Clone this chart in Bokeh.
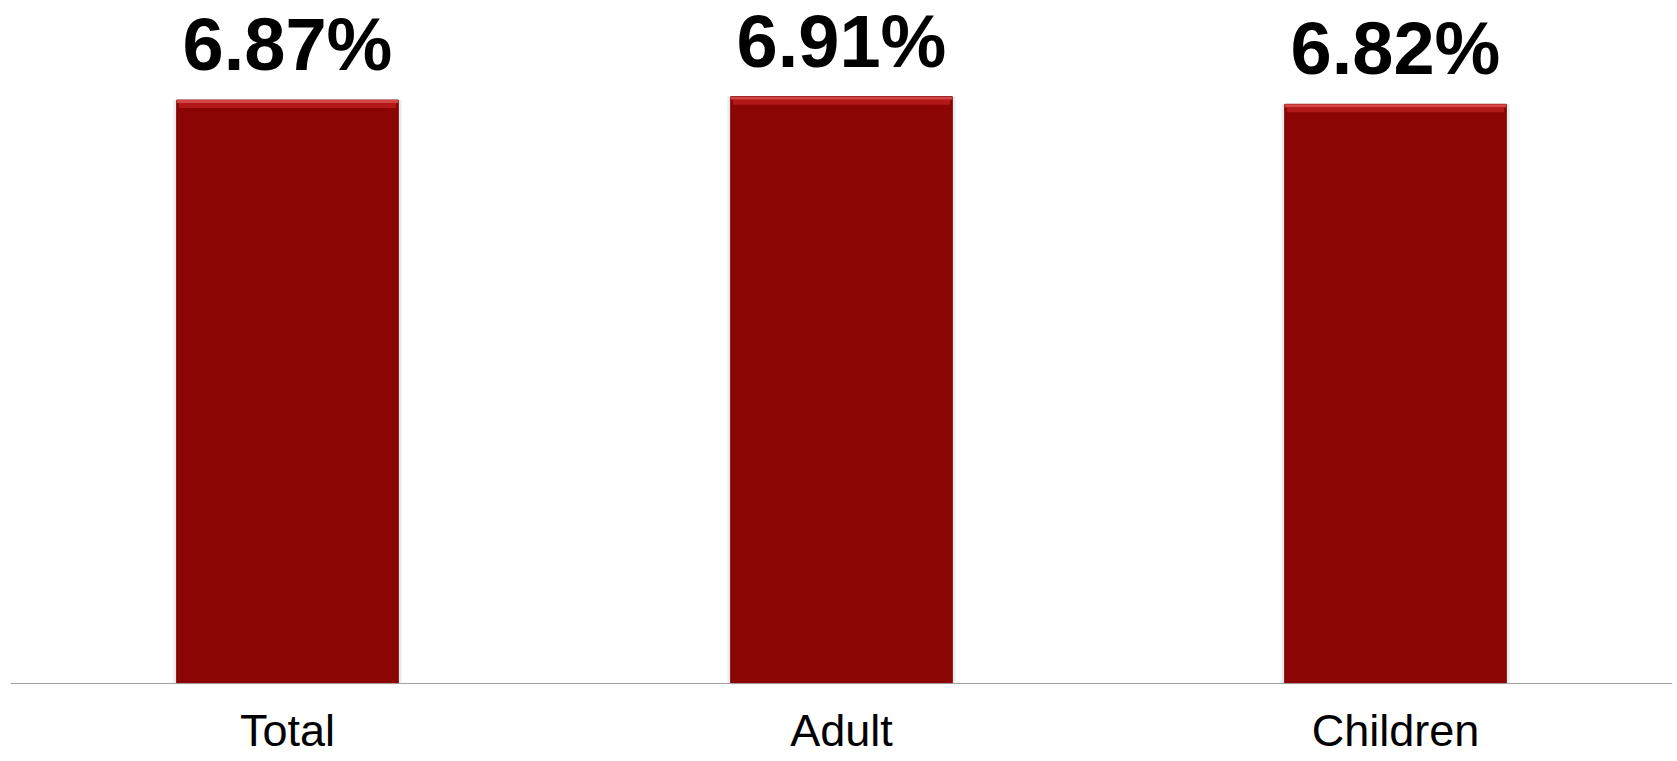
from bokeh.plotting import figure
from bokeh.models import ColumnDataSource, Range1d, FactorRange, Span
from bokeh.core.properties import value
from bokeh.embed import file_html
from bokeh.resources import INLINE

categories = ["Total", "Adult", "Children"]
rates = [6.87, 6.91, 6.82]
labels = ["6.87%", "6.91%", "6.82%"]

src = ColumnDataSource(data=dict(
    cat=categories,
    val=rates,
    hi1=[v - 0.035 for v in rates],
    hi2=[v - 0.095 for v in rates],
    zero=[0 for v in rates],
    label=labels,
))

p = figure(
    width=1677, height=761,
    x_range=FactorRange(*categories, range_padding=0),
    y_range=Range1d(-0.918, 8.042),
    output_backend="svg", toolbar_location=None,
    min_border_left=10, min_border_right=5, min_border_top=0, min_border_bottom=0,
)
p.outline_line_color = None
p.background_fill_color = "white"
p.border_fill_color = "white"
p.xgrid.visible = False
p.ygrid.visible = False
p.xaxis.visible = False
p.yaxis.visible = False

# soft shadow
p.vbar(x="cat", top="val", width=0.412, bottom=0, source=src,
       fill_color="#000000", fill_alpha=0.08, line_color=None)
# bars
p.vbar(x="cat", top="val", width=0.40, bottom=0, source=src,
       fill_color="#8C0505", line_color="#7E0404", line_width=1)
# top bevel
p.vbar(x="cat", top="hi1", bottom="hi2", width=0.392, source=src,
       fill_color="#B31818", line_color=None)
p.vbar(x="cat", top="val", bottom="hi1", width=0.40, source=src,
       fill_color="#D64545", line_color=None)

# baseline (category axis line)
p.add_layout(Span(location=0, dimension="width", line_color="#A0A0A0", line_width=1))

p.text(x="cat", y="val", text="label", source=src,
       text_font=value("Liberation Sans"), text_font_style="bold",
       text_font_size="74px", text_color="black",
       text_align="center", text_baseline="bottom", y_offset=-14)

p.text(x="cat", y="zero", text="cat", source=src,
       text_font=value("Liberation Sans"), text_font_size="45px",
       text_color="black", text_align="center", text_baseline="top", y_offset=21)

open("out.html", "w").write(file_html(p, INLINE))
